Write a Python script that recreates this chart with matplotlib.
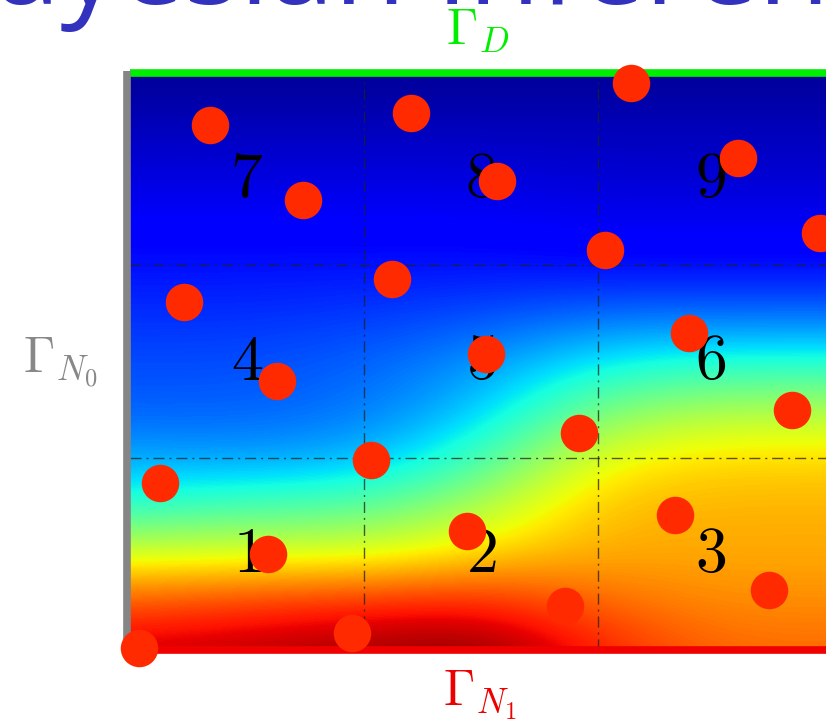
import numpy as np
import matplotlib
matplotlib.use('Agg')
import matplotlib.pyplot as plt

plt.rcParams['mathtext.fontset'] = 'cm'

# field samples (jet scale 0..1), rows bottom -> top (y step 0.25), cols x = 0..3 step 0.5
field = np.array([
    [0.93, 0.95, 0.97, 1.00, 0.88, 0.80, 0.80],  # y=0
    [0.82, 0.85, 0.87, 0.88, 0.80, 0.76, 0.76],  # y=0.25
    [0.61, 0.62, 0.62, 0.68, 0.73, 0.73, 0.73],  # y=0.5
    [0.40, 0.44, 0.45, 0.56, 0.71, 0.72, 0.72],  # y=0.75
    [0.29, 0.28, 0.30, 0.42, 0.64, 0.68, 0.68],  # y=1.0
    [0.22, 0.22, 0.24, 0.32, 0.50, 0.56, 0.56],  # y=1.25
    [0.20, 0.20, 0.22, 0.27, 0.36, 0.39, 0.39],  # y=1.5
    [0.17, 0.17, 0.18, 0.20, 0.23, 0.23, 0.23],  # y=1.75
    [0.14, 0.14, 0.14, 0.14, 0.13, 0.13, 0.13],  # y=2.0
    [0.11, 0.11, 0.11, 0.11, 0.10, 0.10, 0.10],  # y=2.25
    [0.08, 0.08, 0.08, 0.08, 0.07, 0.07, 0.07],  # y=2.5
    [0.05, 0.05, 0.05, 0.05, 0.05, 0.05, 0.05],  # y=2.75
    [0.02, 0.02, 0.02, 0.02, 0.02, 0.02, 0.02],  # y=3.0
])

# observation points
obs_x = [0.34, 1.20, 2.14, 0.74, 1.57, 2.60, 2.95, 2.03, 1.12, 0.23, 2.39, 1.52,
         0.63, 2.83, 1.92, 1.03, 0.13, 2.33, 1.44, 0.59, 2.73, 1.86, 0.95, 0.04]
obs_y = [2.73, 2.79, 2.95, 2.34, 2.44, 2.56, 2.17, 2.08, 1.93, 1.81, 1.65, 1.54,
         1.40, 1.25, 1.13, 0.99, 0.87, 0.70, 0.62, 0.50, 0.31, 0.23, 0.09, 0.01]

sub_labels = ['1', '2', '3', '4', '5', '6', '7', '8', '9']
sub_x = [0.5, 1.5, 2.48] * 3
sub_y = [0.5] * 3 + [1.5] * 3 + [2.45] * 3
grid_pos = [1, 2]

W, H = 826, 721
fig = plt.figure(figsize=(W / 100, H / 100), dpi=100)
ax = fig.add_axes([130 / W, (H - 650) / H, 702 / W, 577 / H])

ax.imshow(field, cmap='jet', vmin=0, vmax=1, origin='lower',
          extent=[-0.25, 3.25, -0.125, 3.125], interpolation='bicubic',
          aspect='auto')
ax.set_xlim(0, 3)
ax.set_ylim(0, 3)
ax.axis('off')

# subdomain lines
dash = (0, (8, 3.5, 1.5, 3.5))
for g in grid_pos:
    ax.axvline(g, color='#222222', lw=1, ls=dash, alpha=0.75)
    ax.axhline(g, color='#222222', lw=1, ls=dash, alpha=0.75)

# boundaries
ax.plot([0, 3], [3, 3], color='#00ee00', lw=5.5, clip_on=False, solid_capstyle='butt')
ax.plot([0, 3], [0, 0], color='#f00000', lw=5.5, clip_on=False, solid_capstyle='butt')
ax.plot([-0.013, -0.013], [0, 3.01], color='#858585', lw=5.5, clip_on=False,
        solid_capstyle='butt')

for lab, x, y in zip(sub_labels, sub_x, sub_y):
    ax.text(x, y, '$' + lab + '$', fontsize=46, ha='center', va='center', color='black')

ax.plot(obs_x, obs_y, 'o', ms=27, color='#ff2a00', mec='none', clip_on=False, zorder=5)

# boundary names
fig.text(478 / W, 1 - 30 / H, r'$\Gamma_D$', color='#00ee00', fontsize=36, ha='center', va='center')
fig.text(60 / W, 1 - 362 / H, r'$\Gamma_{N_0}$', color='#888888', fontsize=36, ha='center', va='center')
fig.text(480 / W, 1 - 695 / H, r'$\Gamma_{N_1}$', color='#ee0000', fontsize=36, ha='center', va='center')

# slide title (cut at top)
fig.text(-80 / W, 1 - 4 / H, 'Bayesian Inference', color='#3232be', fontsize=84,
         family='Open Sans', ha='left', va='baseline')

fig.savefig('out.png', dpi=100)
